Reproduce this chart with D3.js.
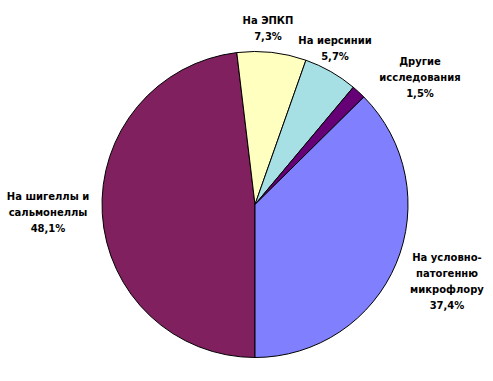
<!DOCTYPE html>
<html><head><meta charset="utf-8">
<script src="https://cdn.jsdelivr.net/npm/d3@7"></script>
<style>body{margin:0;background:#fff}svg{display:block}</style>
</head><body>
<svg id="c" width="493" height="381"></svg>
<script>
const categories = ["На шигеллы и сальмонеллы", "На ЭПКП", "На иерсинии", "Другие исследования", "На условно-патогенню микрофлору"];
const values = [48.1, 7.3, 5.7, 1.5, 37.4];
const valueLabels = ["48,1%", "7,3%", "5,7%", "1,5%", "37,4%"];
const labelLines = [["На шигеллы и", "сальмонеллы"], ["На ЭПКП"], ["На иерсинии"], ["Другие", "исследования"], ["На условно-", "патогенню", "микрофлору"]];
const colors = ["#80205F", "#FFFFC0", "#A6E0E4", "#660077", "#8080FF"];
const labelPos = [[48, 196], [268, 20], [335, 40], [420, 61], [447, 257]];

const svg = d3.select("#c");
const cx = 255, cy = 204.5, r = 153;
const pie = d3.pie().sort(null).value(d => d).startAngle(Math.PI).endAngle(3 * Math.PI);
const arc = d3.arc().innerRadius(0).outerRadius(r);
const g = svg.append("g").attr("transform", `translate(${cx},${cy})`);
g.selectAll("path").data(pie(values)).join("path")
  .attr("d", arc).attr("fill", (d, i) => colors[i])
  .attr("stroke", "#000").attr("stroke-width", 1).attr("stroke-linejoin", "round");

const lg = svg.append("g").attr("font-family", "DejaVu Sans, Verdana, sans-serif")
  .attr("font-size", 10).attr("font-weight", "bold").attr("fill", "#000").attr("text-anchor", "middle");
labelLines.forEach((lines, i) => {
  const all = lines.concat([valueLabels[i]]);
  const t = lg.append("text").attr("x", labelPos[i][0]).attr("y", labelPos[i][1] + 4);
  all.forEach((s, j) => t.append("tspan").attr("x", labelPos[i][0]).attr("dy", j ? 16 : 0).text(s));
});
</script>
</body></html>
